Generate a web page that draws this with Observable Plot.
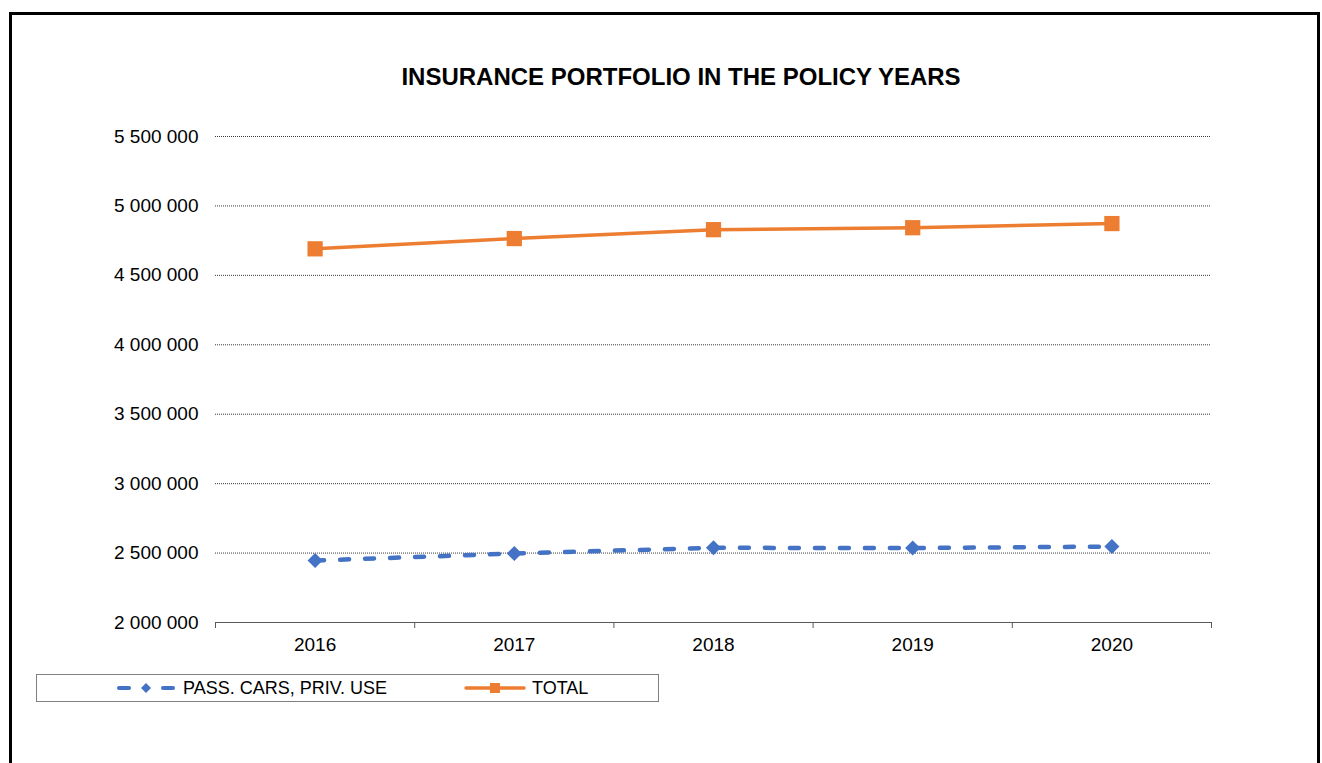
<!DOCTYPE html>
<html>
<head>
<meta charset="utf-8">
<script src="https://cdn.jsdelivr.net/npm/d3@7"></script>
<script src="https://cdn.jsdelivr.net/npm/@observablehq/plot@0.6"></script>
<style>
  html, body { margin: 0; padding: 0; background: #fff; overflow: hidden; }
  body { width: 1322px; height: 763px; position: relative; font-family: "Liberation Sans", Arial, sans-serif; }
  #frame { position: absolute; left: 9px; top: 12px; width: 1305px; height: 800px; border: 3px solid #000; box-sizing: content-box; }
  #title { position: absolute; left: 281px; width: 800px; top: 65px; line-height: 24px; font-size: 24px; font-weight: bold; text-align: center; color: #000; }
  #chart { position: absolute; left: 0; top: 0; }
  #legend { position: absolute; left: 36px; top: 674px; width: 621px; height: 26px; border: 1px solid #808080; background: #fff; }
  .lt { position: absolute; font-size: 18px; line-height: 18px; top: 4px; color: #000; white-space: nowrap; }
  .ls { position: absolute; top: 0; }
</style>
</head>
<body>
<div id="frame"></div>
<div id="title"></div>
<div id="chart"></div>
<div id="legend"></div>
<script>
const titleText = "INSURANCE PORTFOLIO IN THE POLICY YEARS";
const years = [2016, 2017, 2018, 2019, 2020];
const passCars = [2446000, 2497000, 2538000, 2536000, 2547000];
const total = [4691000, 4765000, 4829000, 4843000, 4873000];
const yTicks = [2000000, 2500000, 3000000, 3500000, 4000000, 4500000, 5000000, 5500000];
const seriesNames = ["PASS. CARS, PRIV. USE", "TOTAL"];
const seriesColors = ["#4472C4", "#ED7D31"];

document.getElementById("title").textContent = titleText;

const idx = years.map((d, i) => i);
const boundaries = d3.range(years.length + 1).map(i => i - 0.5);
const passData = years.map((y, i) => ({i, v: passCars[i]}));
const totalData = years.map((y, i) => ({i, v: total[i]}));
const fmt = d => d3.format(",")(d).replace(/,/g, " ");

const chart = Plot.plot({
  width: 1322,
  height: 763,
  marginLeft: 215,
  marginRight: 111,
  marginTop: 136,
  marginBottom: 141,
  style: {fontFamily: "'Liberation Sans', Arial, sans-serif", fontSize: "19px", color: "#000", background: "transparent"},
  x: {type: "linear", domain: [-0.5, years.length - 0.5]},
  y: {domain: [yTicks[0], yTicks[yTicks.length - 1]]},
  marks: [
    Plot.gridY(yTicks.slice(1), {stroke: "#3a3a3a", strokeOpacity: 1, strokeDasharray: "1,1"}),
    Plot.axisY(yTicks, {tickSize: 0, tickPadding: 17, tickFormat: fmt, label: null, fontSize: 19}),
    Plot.ruleY([yTicks[0]], {stroke: "#595959", strokeWidth: 1}),
    Plot.axisX(boundaries, {tickSize: 6, tickFormat: () => "", stroke: "#595959", label: null}),
    Plot.axisX(idx, {tickSize: 0, tickPadding: 15, tickFormat: i => String(years[i]), label: null, fontSize: 19}),
    Plot.line(passData, {x: "i", y: "v", stroke: seriesColors[0], strokeWidth: 4.5, strokeDasharray: "9,16", strokeLinecap: "round"}),
    Plot.dot(passData, {x: "i", y: "v", symbol: "diamond2", r: 6.8, fill: seriesColors[0], stroke: "none"}),
    Plot.line(totalData, {x: "i", y: "v", stroke: seriesColors[1], strokeWidth: 3.5}),
    Plot.dot(totalData, {x: "i", y: "v", symbol: "square", r: 8.6, fill: seriesColors[1], stroke: "none"})
  ]
});
document.getElementById("chart").appendChild(chart);

// Legend
const legend = document.getElementById("legend");
const ns = "http://www.w3.org/2000/svg";
function el(tag, attrs, parent) {
  const e = document.createElementNS(ns, tag);
  for (const k in attrs) e.setAttribute(k, attrs[k]);
  parent.appendChild(e);
  return e;
}
function sampleDashed(left, color) {
  const svg = el("svg", {width: 70, height: 26, class: "ls"}, legend);
  svg.style.left = left + "px";
  el("line", {x1: 9, x2: 19, y1: 13, y2: 13, stroke: color, "stroke-width": 4, "stroke-linecap": "round"}, svg);
  el("line", {x1: 53, x2: 63, y1: 13, y2: 13, stroke: color, "stroke-width": 4, "stroke-linecap": "round"}, svg);
  el("path", {d: "M36,8L41,13L36,18L31,13Z", fill: color}, svg);
}
function sampleSolid(left, color) {
  const svg = el("svg", {width: 70, height: 26, class: "ls"}, legend);
  svg.style.left = left + "px";
  el("line", {x1: 3, x2: 61, y1: 13, y2: 13, stroke: color, "stroke-width": 3.5, "stroke-linecap": "round"}, svg);
  el("path", {d: "M27,8H37V18H27Z", fill: color}, svg);
}
function label(left, text) {
  const s = document.createElement("span");
  s.className = "lt"; s.style.left = left + "px"; s.textContent = text;
  legend.appendChild(s);
}
sampleDashed(110 - 37, seriesColors[0]);
label(183 - 37, seriesNames[0]);
sampleSolid(466 - 37 - 3, seriesColors[1]);
label(532 - 37, seriesNames[1]);
</script>
</body>
</html>
